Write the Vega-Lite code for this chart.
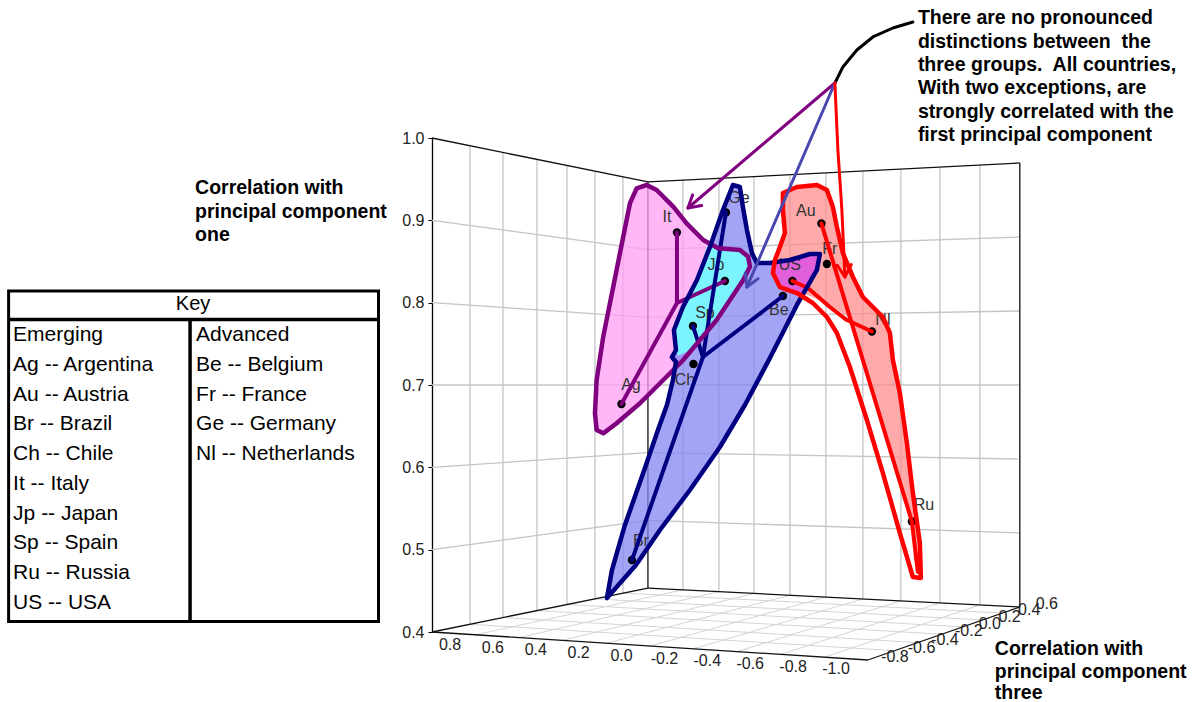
{
  "$schema": "https://vega.github.io/schema/vega-lite/v6.json",
  "width": 741,
  "height": 494,
  "autosize": {"type": "none"},
  "padding": {"left": 432, "top": 138, "right": 19, "bottom": 70},
  "background": "white",
  "config": {"view": {"stroke": null}, "font": "Liberation Sans"},
  "datasets": {
    "lines": [
      {"id": "f1", "k": "floor", "i": 1, "u": 0.8257, "v": 0.4094}, {"id": "f1", "k": "floor", "i": 2, "u": -1.1225, "v": 0.3773},
      {"id": "f2", "k": "floor", "i": 1, "u": 0.6743, "v": 0.4176}, {"id": "f2", "k": "floor", "i": 2, "u": -1.2294, "v": 0.3871},
      {"id": "f3", "k": "floor", "i": 1, "u": 0.5183, "v": 0.4260}, {"id": "f3", "k": "floor", "i": 2, "u": -1.3390, "v": 0.3973},
      {"id": "f4", "k": "floor", "i": 1, "u": 0.3807, "v": 0.4334}, {"id": "f4", "k": "floor", "i": 2, "u": -1.4358, "v": 0.4062},
      {"id": "f5", "k": "floor", "i": 1, "u": 0.2523, "v": 0.4403}, {"id": "f5", "k": "floor", "i": 2, "u": -1.5261, "v": 0.4146},
      {"id": "f6", "k": "floor", "i": 1, "u": 0.1239, "v": 0.4473}, {"id": "f6", "k": "floor", "i": 2, "u": -1.6165, "v": 0.4230},
      {"id": "g1", "k": "floor", "i": 1, "u": 0.8, "v": 0.3966}, {"id": "g1", "k": "floor", "i": 2, "u": -0.1514, "v": 0.4512},
      {"id": "g2", "k": "floor", "i": 1, "u": 0.6, "v": 0.3932}, {"id": "g2", "k": "floor", "i": 2, "u": -0.3165, "v": 0.4490},
      {"id": "g3", "k": "floor", "i": 1, "u": 0.4, "v": 0.3898}, {"id": "g3", "k": "floor", "i": 2, "u": -0.4771, "v": 0.4468},
      {"id": "g4", "k": "floor", "i": 1, "u": 0.2, "v": 0.3864}, {"id": "g4", "k": "floor", "i": 2, "u": -0.6422, "v": 0.4446},
      {"id": "g5", "k": "floor", "i": 1, "u": 0.0, "v": 0.3830}, {"id": "g5", "k": "floor", "i": 2, "u": -0.8073, "v": 0.4424},
      {"id": "g6", "k": "floor", "i": 1, "u": -0.2, "v": 0.3796}, {"id": "g6", "k": "floor", "i": 2, "u": -0.9771, "v": 0.4401},
      {"id": "g7", "k": "floor", "i": 1, "u": -0.4, "v": 0.3762}, {"id": "g7", "k": "floor", "i": 2, "u": -1.1514, "v": 0.4377},
      {"id": "g8", "k": "floor", "i": 1, "u": -0.6, "v": 0.3728}, {"id": "g8", "k": "floor", "i": 2, "u": -1.3303, "v": 0.4353},
      {"id": "g9", "k": "floor", "i": 1, "u": -0.8, "v": 0.3694}, {"id": "g9", "k": "floor", "i": 2, "u": -1.5138, "v": 0.4328},
      {"id": "lh5", "k": "grid", "i": 1, "u": 1.0, "v": 0.5}, {"id": "lh5", "k": "grid", "i": 2, "u": 0.0092, "v": 0.5356},
      {"id": "lh6", "k": "grid", "i": 1, "u": 1.0, "v": 0.6}, {"id": "lh6", "k": "grid", "i": 2, "u": 0.0092, "v": 0.6178},
      {"id": "lh7", "k": "grid", "i": 1, "u": 1.0, "v": 0.7}, {"id": "lh7", "k": "grid", "i": 2, "u": 0.0092, "v": 0.7000},
      {"id": "lh8", "k": "grid", "i": 1, "u": 1.0, "v": 0.8}, {"id": "lh8", "k": "grid", "i": 2, "u": 0.0092, "v": 0.7822},
      {"id": "lh9", "k": "grid", "i": 1, "u": 1.0, "v": 0.9}, {"id": "lh9", "k": "grid", "i": 2, "u": 0.0092, "v": 0.8644},
      {"id": "lv1", "k": "grid", "i": 1, "u": 0.8257, "v": 0.9906}, {"id": "lv1", "k": "grid", "i": 2, "u": 0.8257, "v": 0.4094},
      {"id": "lv2", "k": "grid", "i": 1, "u": 0.6743, "v": 0.9824}, {"id": "lv2", "k": "grid", "i": 2, "u": 0.6743, "v": 0.4176},
      {"id": "lv3", "k": "grid", "i": 1, "u": 0.5183, "v": 0.9740}, {"id": "lv3", "k": "grid", "i": 2, "u": 0.5183, "v": 0.4260},
      {"id": "lv4", "k": "grid", "i": 1, "u": 0.3807, "v": 0.9666}, {"id": "lv4", "k": "grid", "i": 2, "u": 0.3807, "v": 0.4334},
      {"id": "lv5", "k": "grid", "i": 1, "u": 0.2523, "v": 0.9597}, {"id": "lv5", "k": "grid", "i": 2, "u": 0.2523, "v": 0.4403},
      {"id": "lv6", "k": "grid", "i": 1, "u": 0.1239, "v": 0.9527}, {"id": "lv6", "k": "grid", "i": 2, "u": 0.1239, "v": 0.4473},
      {"id": "rh5", "k": "grid", "i": 1, "u": 0.0092, "v": 0.5356}, {"id": "rh5", "k": "grid", "i": 2, "u": -1.6972, "v": 0.5202},
      {"id": "rh6", "k": "grid", "i": 1, "u": 0.0092, "v": 0.6178}, {"id": "rh6", "k": "grid", "i": 2, "u": -1.6972, "v": 0.6101},
      {"id": "rh7", "k": "grid", "i": 1, "u": 0.0092, "v": 0.7000}, {"id": "rh7", "k": "grid", "i": 2, "u": -1.6972, "v": 0.7000},
      {"id": "rh8", "k": "grid", "i": 1, "u": 0.0092, "v": 0.7822}, {"id": "rh8", "k": "grid", "i": 2, "u": -1.6972, "v": 0.7899},
      {"id": "rh9", "k": "grid", "i": 1, "u": 0.0092, "v": 0.8644}, {"id": "rh9", "k": "grid", "i": 2, "u": -1.6972, "v": 0.8798},
      {"id": "rv1", "k": "grid", "i": 1, "u": -0.1514, "v": 0.9488}, {"id": "rv1", "k": "grid", "i": 2, "u": -0.1514, "v": 0.4512},
      {"id": "rv2", "k": "grid", "i": 1, "u": -0.3165, "v": 0.9510}, {"id": "rv2", "k": "grid", "i": 2, "u": -0.3165, "v": 0.4490},
      {"id": "rv3", "k": "grid", "i": 1, "u": -0.4771, "v": 0.9532}, {"id": "rv3", "k": "grid", "i": 2, "u": -0.4771, "v": 0.4468},
      {"id": "rv4", "k": "grid", "i": 1, "u": -0.6422, "v": 0.9554}, {"id": "rv4", "k": "grid", "i": 2, "u": -0.6422, "v": 0.4446},
      {"id": "rv5", "k": "grid", "i": 1, "u": -0.8073, "v": 0.9576}, {"id": "rv5", "k": "grid", "i": 2, "u": -0.8073, "v": 0.4424},
      {"id": "rv6", "k": "grid", "i": 1, "u": -0.9771, "v": 0.9599}, {"id": "rv6", "k": "grid", "i": 2, "u": -0.9771, "v": 0.4401},
      {"id": "rv7", "k": "grid", "i": 1, "u": -1.1514, "v": 0.9623}, {"id": "rv7", "k": "grid", "i": 2, "u": -1.1514, "v": 0.4377},
      {"id": "rv8", "k": "grid", "i": 1, "u": -1.3303, "v": 0.9647}, {"id": "rv8", "k": "grid", "i": 2, "u": -1.3303, "v": 0.4353},
      {"id": "rv9", "k": "grid", "i": 1, "u": -1.5138, "v": 0.9672}, {"id": "rv9", "k": "grid", "i": 2, "u": -1.5138, "v": 0.4328},
      {"id": "e1", "k": "edge", "i": 1, "u": 1.0, "v": 1.0}, {"id": "e1", "k": "edge", "i": 2, "u": 0.0092, "v": 0.9466},
      {"id": "e2", "k": "edge", "i": 1, "u": 0.0092, "v": 0.9466}, {"id": "e2", "k": "edge", "i": 2, "u": 0.0092, "v": 0.4534},
      {"id": "e3", "k": "edge", "i": 1, "u": 0.0092, "v": 0.9466}, {"id": "e3", "k": "edge", "i": 2, "u": -1.6972, "v": 0.9697},
      {"id": "e4", "k": "edge", "i": 1, "u": -1.6972, "v": 0.9697}, {"id": "e4", "k": "edge", "i": 2, "u": -1.6972, "v": 0.4303},
      {"id": "e5", "k": "edge", "i": 1, "u": 1.0, "v": 0.4}, {"id": "e5", "k": "edge", "i": 2, "u": -1.0, "v": 0.3660},
      {"id": "e6", "k": "edge", "i": 1, "u": -1.0, "v": 0.3660}, {"id": "e6", "k": "edge", "i": 2, "u": -1.6972, "v": 0.4304},
      {"id": "e7", "k": "edge", "i": 1, "u": 1.0, "v": 0.4}, {"id": "e7", "k": "edge", "i": 2, "u": 0.0092, "v": 0.4534},
      {"id": "e8", "k": "edge", "i": 1, "u": 0.0092, "v": 0.4534}, {"id": "e8", "k": "edge", "i": 2, "u": -1.6972, "v": 0.4303}
    ],
    "ticks": [
      {"t": "0.8", "u": 0.9174, "v": 0.3842}, {"t": "0.6", "u": 0.7206, "v": 0.3809},
      {"t": "0.4", "u": 0.5239, "v": 0.3777}, {"t": "0.2", "u": 0.3271, "v": 0.3744},
      {"t": "0.0", "u": 0.1303, "v": 0.3711}, {"t": "-0.2", "u": -0.0665, "v": 0.3678},
      {"t": "-0.4", "u": -0.2633, "v": 0.3645}, {"t": "-0.6", "u": -0.4601, "v": 0.3613},
      {"t": "-0.8", "u": -0.6569, "v": 0.3580}, {"t": "-1.0", "u": -0.8537, "v": 0.3547},
      {"t": "-0.8", "u": -1.1239, "v": 0.3696}, {"t": "-0.6", "u": -1.2463, "v": 0.3809},
      {"t": "-0.4", "u": -1.3532, "v": 0.3908}, {"t": "-0.2", "u": -1.4628, "v": 0.4010},
      {"t": "0.0", "u": -1.5596, "v": 0.4098}, {"t": "0.2", "u": -1.6500, "v": 0.4182},
      {"t": "0.4", "u": -1.7404, "v": 0.4266}, {"t": "0.6", "u": -1.8211, "v": 0.4340}
    ],
    "shapes": [
      {"s": "pink", "i": 1, "u": 0.0151, "v": 0.9429}, {"s": "pink", "i": 2, "u": -0.0307, "v": 0.9368},
      {"s": "pink", "i": 3, "u": -0.1069, "v": 0.9166}, {"s": "pink", "i": 4, "u": -0.1683, "v": 0.8964},
      {"s": "pink", "i": 5, "u": -0.2445, "v": 0.8761}, {"s": "pink", "i": 6, "u": -0.3133, "v": 0.8660},
      {"s": "pink", "i": 7, "u": -0.4128, "v": 0.8640}, {"s": "pink", "i": 8, "u": -0.4509, "v": 0.8558},
      {"s": "pink", "i": 9, "u": -0.4587, "v": 0.8437}, {"s": "pink", "i": 10, "u": -0.4280, "v": 0.8275},
      {"s": "pink", "i": 11, "u": -0.3670, "v": 0.8032}, {"s": "pink", "i": 12, "u": -0.3060, "v": 0.7789},
      {"s": "pink", "i": 13, "u": -0.2294, "v": 0.7547}, {"s": "pink", "i": 14, "u": -0.1528, "v": 0.7304},
      {"s": "pink", "i": 15, "u": -0.0610, "v": 0.7061}, {"s": "pink", "i": 16, "u": 0.0459, "v": 0.6778},
      {"s": "pink", "i": 17, "u": 0.1528, "v": 0.6535}, {"s": "pink", "i": 18, "u": 0.2142, "v": 0.6413},
      {"s": "pink", "i": 19, "u": 0.2445, "v": 0.6453}, {"s": "pink", "i": 20, "u": 0.2523, "v": 0.6656},
      {"s": "pink", "i": 21, "u": 0.2445, "v": 0.7061}, {"s": "pink", "i": 22, "u": 0.2142, "v": 0.7587},
      {"s": "pink", "i": 23, "u": 0.1683, "v": 0.8194}, {"s": "pink", "i": 24, "u": 0.1225, "v": 0.8801},
      {"s": "pink", "i": 25, "u": 0.0917, "v": 0.9207}, {"s": "pink", "i": 26, "u": 0.0610, "v": 0.9389},
      {"s": "blue", "i": 1, "u": 0.1972, "v": 0.4413}, {"s": "blue", "i": 2, "u": 0.1743, "v": 0.4753},
      {"s": "blue", "i": 3, "u": 0.1147, "v": 0.5300}, {"s": "blue", "i": 4, "u": 0.0229, "v": 0.5992},
      {"s": "blue", "i": 5, "u": -0.0367, "v": 0.6453}, {"s": "blue", "i": 6, "u": -0.0780, "v": 0.6757},
      {"s": "blue", "i": 7, "u": -0.1055, "v": 0.7061}, {"s": "blue", "i": 8, "u": -0.1193, "v": 0.7279},
      {"s": "blue", "i": 9, "u": -0.1009, "v": 0.7340}, {"s": "blue", "i": 10, "u": -0.1193, "v": 0.7425},
      {"s": "blue", "i": 11, "u": -0.1101, "v": 0.7668}, {"s": "blue", "i": 12, "u": -0.1514, "v": 0.7947},
      {"s": "blue", "i": 13, "u": -0.2156, "v": 0.8275}, {"s": "blue", "i": 14, "u": -0.2752, "v": 0.8676},
      {"s": "blue", "i": 15, "u": -0.3349, "v": 0.9125}, {"s": "blue", "i": 16, "u": -0.3807, "v": 0.9429},
      {"s": "blue", "i": 17, "u": -0.4128, "v": 0.9405}, {"s": "blue", "i": 18, "u": -0.4266, "v": 0.9162},
      {"s": "blue", "i": 19, "u": -0.4450, "v": 0.8883}, {"s": "blue", "i": 20, "u": -0.4679, "v": 0.8603},
      {"s": "blue", "i": 21, "u": -0.4908, "v": 0.8482}, {"s": "blue", "i": 22, "u": -0.5505, "v": 0.8482},
      {"s": "blue", "i": 23, "u": -0.6422, "v": 0.8518}, {"s": "blue", "i": 24, "u": -0.7339, "v": 0.8591},
      {"s": "blue", "i": 25, "u": -0.7798, "v": 0.8591}, {"s": "blue", "i": 26, "u": -0.7661, "v": 0.8397},
      {"s": "blue", "i": 27, "u": -0.6743, "v": 0.7972}, {"s": "blue", "i": 28, "u": -0.5505, "v": 0.7328},
      {"s": "blue", "i": 29, "u": -0.4358, "v": 0.6757}, {"s": "blue", "i": 30, "u": -0.3211, "v": 0.6247},
      {"s": "blue", "i": 31, "u": -0.1835, "v": 0.5725}, {"s": "blue", "i": 32, "u": -0.0459, "v": 0.5239},
      {"s": "blue", "i": 33, "u": 0.0642, "v": 0.4814},
      {"s": "cyan", "i": 1, "u": -0.1101, "v": 0.7668}, {"s": "cyan", "i": 2, "u": -0.1514, "v": 0.7947},
      {"s": "cyan", "i": 3, "u": -0.2156, "v": 0.8275}, {"s": "cyan", "i": 4, "u": -0.2615, "v": 0.8688},
      {"s": "cyan", "i": 5, "u": -0.3211, "v": 0.8664}, {"s": "cyan", "i": 6, "u": -0.4128, "v": 0.8640},
      {"s": "cyan", "i": 7, "u": -0.4509, "v": 0.8558}, {"s": "cyan", "i": 8, "u": -0.4587, "v": 0.8437},
      {"s": "cyan", "i": 9, "u": -0.4280, "v": 0.8275}, {"s": "cyan", "i": 10, "u": -0.3670, "v": 0.8032},
      {"s": "cyan", "i": 11, "u": -0.3060, "v": 0.7789}, {"s": "cyan", "i": 12, "u": -0.2431, "v": 0.7571},
      {"s": "cyan", "i": 13, "u": -0.1835, "v": 0.7425}, {"s": "cyan", "i": 14, "u": -0.1284, "v": 0.7352},
      {"s": "cyan", "i": 15, "u": -0.1193, "v": 0.7425},
      {"s": "salmon", "i": 1, "u": -0.6101, "v": 0.9332}, {"s": "salmon", "i": 2, "u": -0.6743, "v": 0.9405},
      {"s": "salmon", "i": 3, "u": -0.7661, "v": 0.9429}, {"s": "salmon", "i": 4, "u": -0.8119, "v": 0.9368},
      {"s": "salmon", "i": 5, "u": -0.8394, "v": 0.9162}, {"s": "salmon", "i": 6, "u": -0.8578, "v": 0.8919},
      {"s": "salmon", "i": 7, "u": -0.8853, "v": 0.8603}, {"s": "salmon", "i": 8, "u": -0.9312, "v": 0.8312},
      {"s": "salmon", "i": 9, "u": -0.9771, "v": 0.8069}, {"s": "salmon", "i": 10, "u": -1.0229, "v": 0.7947},
      {"s": "salmon", "i": 11, "u": -1.0688, "v": 0.7826}, {"s": "salmon", "i": 12, "u": -1.1009, "v": 0.7632},
      {"s": "salmon", "i": 13, "u": -1.1147, "v": 0.7304}, {"s": "salmon", "i": 14, "u": -1.1468, "v": 0.6903},
      {"s": "salmon", "i": 15, "u": -1.1789, "v": 0.6296}, {"s": "salmon", "i": 16, "u": -1.2064, "v": 0.5688},
      {"s": "salmon", "i": 17, "u": -1.2385, "v": 0.5081}, {"s": "salmon", "i": 18, "u": -1.2431, "v": 0.4656},
      {"s": "salmon", "i": 19, "u": -1.2110, "v": 0.4874}, {"s": "salmon", "i": 20, "u": -1.2018, "v": 0.5348},
      {"s": "salmon", "i": 21, "u": -1.0550, "v": 0.6611}, {"s": "salmon", "i": 22, "u": -0.9174, "v": 0.7814},
      {"s": "salmon", "i": 23, "u": -0.8257, "v": 0.7972}, {"s": "salmon", "i": 24, "u": -0.7339, "v": 0.8081},
      {"s": "salmon", "i": 25, "u": -0.6514, "v": 0.8166}, {"s": "salmon", "i": 26, "u": -0.5963, "v": 0.8190},
      {"s": "salmon", "i": 27, "u": -0.5642, "v": 0.8360}, {"s": "salmon", "i": 28, "u": -0.5734, "v": 0.8518},
      {"s": "salmon", "i": 29, "u": -0.5963, "v": 0.8676}, {"s": "salmon", "i": 30, "u": -0.6193, "v": 0.8846},
      {"s": "salmon", "i": 31, "u": -0.6101, "v": 0.9125},
      {"s": "magenta", "i": 1, "u": -0.5642, "v": 0.8482}, {"s": "magenta", "i": 2, "u": -0.6422, "v": 0.8518},
      {"s": "magenta", "i": 3, "u": -0.7339, "v": 0.8591}, {"s": "magenta", "i": 4, "u": -0.7798, "v": 0.8591},
      {"s": "magenta", "i": 5, "u": -0.7661, "v": 0.8397}, {"s": "magenta", "i": 6, "u": -0.7339, "v": 0.8190},
      {"s": "magenta", "i": 7, "u": -0.7018, "v": 0.8069}, {"s": "magenta", "i": 8, "u": -0.6514, "v": 0.8142},
      {"s": "magenta", "i": 9, "u": -0.5963, "v": 0.8190}, {"s": "magenta", "i": 10, "u": -0.5642, "v": 0.8360},
      {"s": "redline", "i": 1, "u": -0.6101, "v": 0.9332}, {"s": "redline", "i": 2, "u": -0.6743, "v": 0.9405},
      {"s": "redline", "i": 3, "u": -0.7661, "v": 0.9429}, {"s": "redline", "i": 4, "u": -0.8119, "v": 0.9368},
      {"s": "redline", "i": 5, "u": -0.8394, "v": 0.9162}, {"s": "redline", "i": 6, "u": -0.8578, "v": 0.8919},
      {"s": "redline", "i": 7, "u": -0.8853, "v": 0.8603}, {"s": "redline", "i": 8, "u": -0.9312, "v": 0.8312},
      {"s": "redline", "i": 9, "u": -0.9771, "v": 0.8069}, {"s": "redline", "i": 10, "u": -1.0229, "v": 0.7947},
      {"s": "redline", "i": 11, "u": -1.0688, "v": 0.7826}, {"s": "redline", "i": 12, "u": -1.1009, "v": 0.7632},
      {"s": "redline", "i": 13, "u": -1.1147, "v": 0.7304}, {"s": "redline", "i": 14, "u": -1.1468, "v": 0.6903},
      {"s": "redline", "i": 15, "u": -1.1789, "v": 0.6296}, {"s": "redline", "i": 16, "u": -1.2064, "v": 0.5688},
      {"s": "redline", "i": 17, "u": -1.2385, "v": 0.5081}, {"s": "redline", "i": 18, "u": -1.2431, "v": 0.4656},
      {"s": "redline", "i": 19, "u": -1.2064, "v": 0.4668}, {"s": "redline", "i": 20, "u": -1.1468, "v": 0.5202},
      {"s": "redline", "i": 21, "u": -1.0688, "v": 0.5931}, {"s": "redline", "i": 22, "u": -0.9954, "v": 0.6575},
      {"s": "redline", "i": 23, "u": -0.9174, "v": 0.7219}, {"s": "redline", "i": 24, "u": -0.8578, "v": 0.7632},
      {"s": "redline", "i": 25, "u": -0.8119, "v": 0.7826}, {"s": "redline", "i": 26, "u": -0.7477, "v": 0.7996},
      {"s": "redline", "i": 27, "u": -0.6743, "v": 0.8117}, {"s": "redline", "i": 28, "u": -0.5963, "v": 0.8190},
      {"s": "redline", "i": 29, "u": -0.5642, "v": 0.8360}, {"s": "redline", "i": 30, "u": -0.5734, "v": 0.8518},
      {"s": "redline", "i": 31, "u": -0.5963, "v": 0.8676}, {"s": "redline", "i": 32, "u": -0.6193, "v": 0.8846},
      {"s": "redline", "i": 33, "u": -0.6101, "v": 0.9125}
    ],
    "strokes": [
      {"g": "p1", "c": "purple", "i": 1, "u": -0.1239, "v": 0.8852}, {"g": "p1", "c": "purple", "i": 2, "u": -0.1239, "v": 0.7996}, {"g": "p1", "c": "purple", "i": 3, "u": -0.3440, "v": 0.8263},
      {"g": "p2", "c": "purple", "i": 1, "u": -0.1239, "v": 0.7996}, {"g": "p2", "c": "purple", "i": 2, "u": 0.1307, "v": 0.6769},
      {"g": "n1", "c": "navy", "i": 1, "u": -0.3486, "v": 0.9095}, {"g": "n1", "c": "navy", "i": 2, "u": -0.2431, "v": 0.7340}, {"g": "n1", "c": "navy", "i": 3, "u": 0.0826, "v": 0.4874},
      {"g": "n2", "c": "navy", "i": 1, "u": -0.1972, "v": 0.7717}, {"g": "n2", "c": "navy", "i": 2, "u": -0.2431, "v": 0.7340}, {"g": "n2", "c": "navy", "i": 3, "u": -0.6101, "v": 0.8081},
      {"g": "r1", "c": "red", "i": 1, "u": -0.7867, "v": 0.8962}, {"g": "r1", "c": "red", "i": 2, "u": -1.2018, "v": 0.5342}, {"g": "r1", "c": "red", "i": 3, "u": -1.2294, "v": 0.4729},
      {"g": "r2", "c": "red", "i": 1, "u": -0.6537, "v": 0.8263}, {"g": "r2", "c": "red", "i": 2, "u": -0.7248, "v": 0.8178}, {"g": "r2", "c": "red", "i": 3, "u": -0.8257, "v": 0.7947}, {"g": "r2", "c": "red", "i": 4, "u": -0.9037, "v": 0.7789}, {"g": "r2", "c": "red", "i": 5, "u": -1.0183, "v": 0.7650}
    ],
    "arrows": [
      {"g": "a0", "c": "black", "i": 1, "u": -0.8486, "v": 1.0668}, {"g": "a0", "c": "black", "i": 2, "u": -0.8853, "v": 1.0862},
      {"g": "a0", "c": "black", "i": 3, "u": -0.9495, "v": 1.1069}, {"g": "a0", "c": "black", "i": 4, "u": -1.0229, "v": 1.1227},
      {"g": "a0", "c": "black", "i": 5, "u": -1.1147, "v": 1.1336}, {"g": "a0", "c": "black", "i": 6, "u": -1.2064, "v": 1.1409},
      {"g": "a1", "c": "purple", "i": 1, "u": -0.8486, "v": 1.0668}, {"g": "a1", "c": "purple", "i": 2, "u": -0.1743, "v": 0.9150},
      {"g": "a1h", "c": "purple", "i": 1, "u": -0.2376, "v": 0.9180}, {"g": "a1h", "c": "purple", "i": 2, "u": -0.1743, "v": 0.9150}, {"g": "a1h", "c": "purple", "i": 3, "u": -0.1959, "v": 0.9310},
      {"g": "a2", "c": "blue", "i": 1, "u": -0.8486, "v": 1.0668}, {"g": "a2", "c": "blue", "i": 2, "u": -0.4450, "v": 0.8190},
      {"g": "a2h", "c": "blue", "i": 1, "u": -0.4963, "v": 0.8292}, {"g": "a2h", "c": "blue", "i": 2, "u": -0.4450, "v": 0.8190}, {"g": "a2h", "c": "blue", "i": 3, "u": -0.4376, "v": 0.8359},
      {"g": "a3", "c": "red", "i": 1, "u": -0.8486, "v": 1.0668}, {"g": "a3", "c": "red", "i": 2, "u": -0.8624, "v": 0.9854},
      {"g": "a3", "c": "red", "i": 3, "u": -0.8807, "v": 0.9125}, {"g": "a3", "c": "red", "i": 4, "u": -0.8945, "v": 0.8312},
      {"g": "a3h", "c": "red", "i": 1, "u": -0.9239, "v": 0.8463}, {"g": "a3h", "c": "red", "i": 2, "u": -0.8945, "v": 0.8312}, {"g": "a3h", "c": "red", "i": 3, "u": -0.8596, "v": 0.8455}
    ],
    "countries": [
      {"n": "It", "u": -0.1239, "v": 0.8852}, {"n": "Ge", "u": -0.3486, "v": 0.9095},
      {"n": "Jp", "u": -0.3440, "v": 0.8263}, {"n": "Sp", "u": -0.1972, "v": 0.7717},
      {"n": "Ch", "u": -0.1995, "v": 0.7255}, {"n": "Ag", "u": 0.1307, "v": 0.6769},
      {"n": "Br", "u": 0.0826, "v": 0.4874}, {"n": "Be", "u": -0.6101, "v": 0.8081},
      {"n": "US", "u": -0.6537, "v": 0.8263}, {"n": "Au", "u": -0.7867, "v": 0.8962},
      {"n": "Fr", "u": -0.8119, "v": 0.8470}, {"n": "Nl", "u": -1.0183, "v": 0.7650},
      {"n": "Ru", "u": -1.2018, "v": 0.5342}
    ],
    "countrylabels": [
      {"n": "It", "u": -0.0780, "v": 0.9041}, {"n": "Ge", "u": -0.4083, "v": 0.9271},
      {"n": "Jp", "u": -0.3028, "v": 0.8458}, {"n": "Sp", "u": -0.2523, "v": 0.7875},
      {"n": "Ch", "u": -0.1606, "v": 0.7061}, {"n": "Ag", "u": 0.0872, "v": 0.7000},
      {"n": "Br", "u": 0.0413, "v": 0.5105}, {"n": "Be", "u": -0.5917, "v": 0.7911},
      {"n": "US", "u": -0.6422, "v": 0.8458}, {"n": "Au", "u": -0.7156, "v": 0.9113},
      {"n": "Fr", "u": -0.8257, "v": 0.8652}, {"n": "Nl", "u": -1.0688, "v": 0.7789},
      {"n": "Ru", "u": -1.2569, "v": 0.5543}
    ],
    "boldtext": [
      {"t": "Correlation with", "u": 2.0872, "v": 0.9393},
      {"t": "principal component", "u": 2.0872, "v": 0.9107},
      {"t": "one", "u": 2.0872, "v": 0.8826},
      {"t": "Correlation with", "u": -1.5826, "v": 0.3793},
      {"t": "principal component", "u": -1.5826, "v": 0.3514},
      {"t": "three", "u": -1.5826, "v": 0.3259},
      {"t": "There are no pronounced", "u": -1.2294, "v": 1.1458},
      {"t": "distinctions between\u00a0 the", "u": -1.2294, "v": 1.1166},
      {"t": "three groups.\u00a0 All countries,", "u": -1.2294, "v": 1.0887},
      {"t": "With two exceptions, are", "u": -1.2294, "v": 1.0607},
      {"t": "strongly correlated with the", "u": -1.2294, "v": 1.0316},
      {"t": "first principal component", "u": -1.2294, "v": 1.0036}
    ],
    "keyframe": [{"u": 2.9427, "u2": 1.2454, "v": 0.8142, "v2": 0.4128}],
    "keylines": [
      {"u": 2.9427, "u2": 1.2454, "v": 0.7796, "v2": 0.7796},
      {"u": 2.1101, "u2": 2.1101, "v": 0.7796, "v2": 0.4128}
    ],
    "keyhead": [{"t": "Key", "u": 2.0963, "v": 0.7984}],
    "keytext": [
      {"t": "Emerging", "u": 2.9220, "v": 0.7607},
      {"t": "Ag -- Argentina", "u": 2.9220, "v": 0.7243},
      {"t": "Au -- Austria", "u": 2.9220, "v": 0.6879},
      {"t": "Br -- Brazil", "u": 2.9220, "v": 0.6526},
      {"t": "Ch -- Chile", "u": 2.9220, "v": 0.6162},
      {"t": "It -- Italy", "u": 2.9220, "v": 0.5798},
      {"t": "Jp -- Japan", "u": 2.9220, "v": 0.5433},
      {"t": "Sp -- Spain", "u": 2.9220, "v": 0.5081},
      {"t": "Ru -- Russia", "u": 2.9220, "v": 0.4717},
      {"t": "US -- USA", "u": 2.9220, "v": 0.4352},
      {"t": "Advanced", "u": 2.0826, "v": 0.7607},
      {"t": "Be -- Belgium", "u": 2.0826, "v": 0.7243},
      {"t": "Fr -- France", "u": 2.0826, "v": 0.6879},
      {"t": "Ge -- Germany", "u": 2.0826, "v": 0.6526},
      {"t": "Nl -- Netherlands", "u": 2.0826, "v": 0.6162}
    ]
  },
  "encoding": {
    "x": {"field": "u", "type": "quantitative", "scale": {"domain": [-2.4, 1.0], "reverse": true, "nice": false, "zero": false}, "axis": null},
    "y": {
      "field": "v", "type": "quantitative",
      "scale": {"domain": [0.4, 1.0], "nice": false, "zero": false},
      "axis": {"values": [0.4, 0.5, 0.6, 0.7, 0.8, 0.9, 1.0], "format": ".1f", "title": null, "grid": false,
        "labelFont": "Liberation Sans", "labelFontSize": 16, "labelColor": "#222", "labelPadding": 4,
        "domainColor": "#000", "domainWidth": 1.3, "tickColor": "#000", "tickSize": 4}
    }
  },
  "layer": [
    {"data": {"name": "lines"}, "transform": [{"filter": "datum.k == 'floor'"}],
     "mark": {"type": "line", "stroke": "#d4d4d4", "strokeWidth": 1},
     "encoding": {"detail": {"field": "id"}, "order": {"field": "i"}}},
    {"data": {"name": "lines"}, "transform": [{"filter": "datum.k == 'grid'"}],
     "mark": {"type": "line", "stroke": "#c4c4c4", "strokeWidth": 1.3},
     "encoding": {"detail": {"field": "id"}, "order": {"field": "i"}}},
    {"data": {"name": "lines"}, "transform": [{"filter": "datum.k == 'edge'"}],
     "mark": {"type": "line", "stroke": "#111", "strokeWidth": 1.3},
     "encoding": {"detail": {"field": "id"}, "order": {"field": "i"}}},
    {"data": {"name": "ticks"},
     "mark": {"type": "text", "font": "Liberation Sans", "fontSize": 16, "color": "#222", "align": "center", "baseline": "middle"},
     "encoding": {"text": {"field": "t"}}},
    {"data": {"name": "shapes"}, "transform": [{"filter": "datum.s == 'pink'"}],
     "mark": {"type": "line", "interpolate": "linear-closed", "fill": "#ff9ff5", "fillOpacity": 0.75, "strokeWidth": 0},
     "encoding": {"order": {"field": "i"}}},
    {"data": {"name": "shapes"}, "transform": [{"filter": "datum.s == 'blue'"}],
     "mark": {"type": "line", "interpolate": "linear-closed", "fill": "#8486f2", "fillOpacity": 0.75, "strokeWidth": 0},
     "encoding": {"order": {"field": "i"}}},
    {"data": {"name": "shapes"}, "transform": [{"filter": "datum.s == 'salmon'"}],
     "mark": {"type": "line", "interpolate": "linear-closed", "fill": "#ff8e8e", "fillOpacity": 0.75, "strokeWidth": 0},
     "encoding": {"order": {"field": "i"}}},
    {"data": {"name": "shapes"}, "transform": [{"filter": "datum.s == 'cyan'"}],
     "mark": {"type": "line", "interpolate": "linear-closed", "fill": "#78ffff", "fillOpacity": 0.9, "strokeWidth": 0},
     "encoding": {"order": {"field": "i"}}},
    {"data": {"name": "shapes"}, "transform": [{"filter": "datum.s == 'magenta'"}],
     "mark": {"type": "line", "interpolate": "linear-closed", "fill": "#e05ae0", "fillOpacity": 0.9, "strokeWidth": 0},
     "encoding": {"order": {"field": "i"}}},
    {"data": {"name": "countries"},
     "mark": {"type": "circle", "size": 70, "color": "#000", "opacity": 1}},
    {"data": {"name": "countrylabels"},
     "mark": {"type": "text", "font": "Liberation Sans", "fontSize": 16, "color": "#333", "align": "center", "baseline": "middle"},
     "encoding": {"text": {"field": "n"}}},
    {"data": {"name": "strokes"},
     "mark": {"type": "line", "strokeWidth": 4, "strokeCap": "round", "strokeJoin": "round"},
     "encoding": {"detail": {"field": "g"}, "order": {"field": "i"},
       "stroke": {"field": "c", "type": "nominal", "legend": null,
         "scale": {"domain": ["purple", "navy", "red", "black", "blue"], "range": ["#800080", "#000080", "#ff0000", "#000000", "#4848b0"]}}}},
    {"data": {"name": "shapes"}, "transform": [{"filter": "datum.s == 'pink'"}],
     "mark": {"type": "line", "interpolate": "linear-closed", "stroke": "#800080", "strokeWidth": 4.5, "strokeJoin": "round"},
     "encoding": {"order": {"field": "i"}}},
    {"data": {"name": "shapes"}, "transform": [{"filter": "datum.s == 'blue'"}],
     "mark": {"type": "line", "interpolate": "linear-closed", "stroke": "#000080", "strokeWidth": 4.5, "strokeJoin": "round"},
     "encoding": {"order": {"field": "i"}}},
    {"data": {"name": "shapes"}, "transform": [{"filter": "datum.s == 'redline'"}],
     "mark": {"type": "line", "interpolate": "linear-closed", "stroke": "#ff0000", "strokeWidth": 4.5, "strokeJoin": "round"},
     "encoding": {"order": {"field": "i"}}},
    {"data": {"name": "arrows"},
     "mark": {"type": "line", "strokeWidth": 3, "strokeCap": "round", "strokeJoin": "round"},
     "encoding": {"detail": {"field": "g"}, "order": {"field": "i"},
       "stroke": {"field": "c", "type": "nominal", "legend": null,
         "scale": {"domain": ["purple", "navy", "red", "black", "blue"], "range": ["#800080", "#000080", "#ff0000", "#000000", "#4848b0"]}}}},
    {"data": {"name": "boldtext"},
     "mark": {"type": "text", "font": "Liberation Sans", "fontWeight": "bold", "fontSize": 19.5, "color": "#000", "align": "left", "baseline": "middle"},
     "encoding": {"text": {"field": "t"}}},
    {"data": {"name": "keyframe"},
     "mark": {"type": "rect", "filled": false, "stroke": "#000", "strokeWidth": 3},
     "encoding": {"x2": {"field": "u2"}, "y2": {"field": "v2"}}},
    {"data": {"name": "keylines"},
     "mark": {"type": "rule", "color": "#000", "strokeWidth": 3.5},
     "encoding": {"x2": {"field": "u2"}, "y2": {"field": "v2"}}},
    {"data": {"name": "keyhead"},
     "mark": {"type": "text", "font": "Liberation Sans", "fontSize": 20, "color": "#000", "align": "center", "baseline": "middle"},
     "encoding": {"text": {"field": "t"}}},
    {"data": {"name": "keytext"},
     "mark": {"type": "text", "font": "Liberation Sans", "fontSize": 21, "color": "#000", "align": "left", "baseline": "middle"},
     "encoding": {"text": {"field": "t"}}}
  ]
}
